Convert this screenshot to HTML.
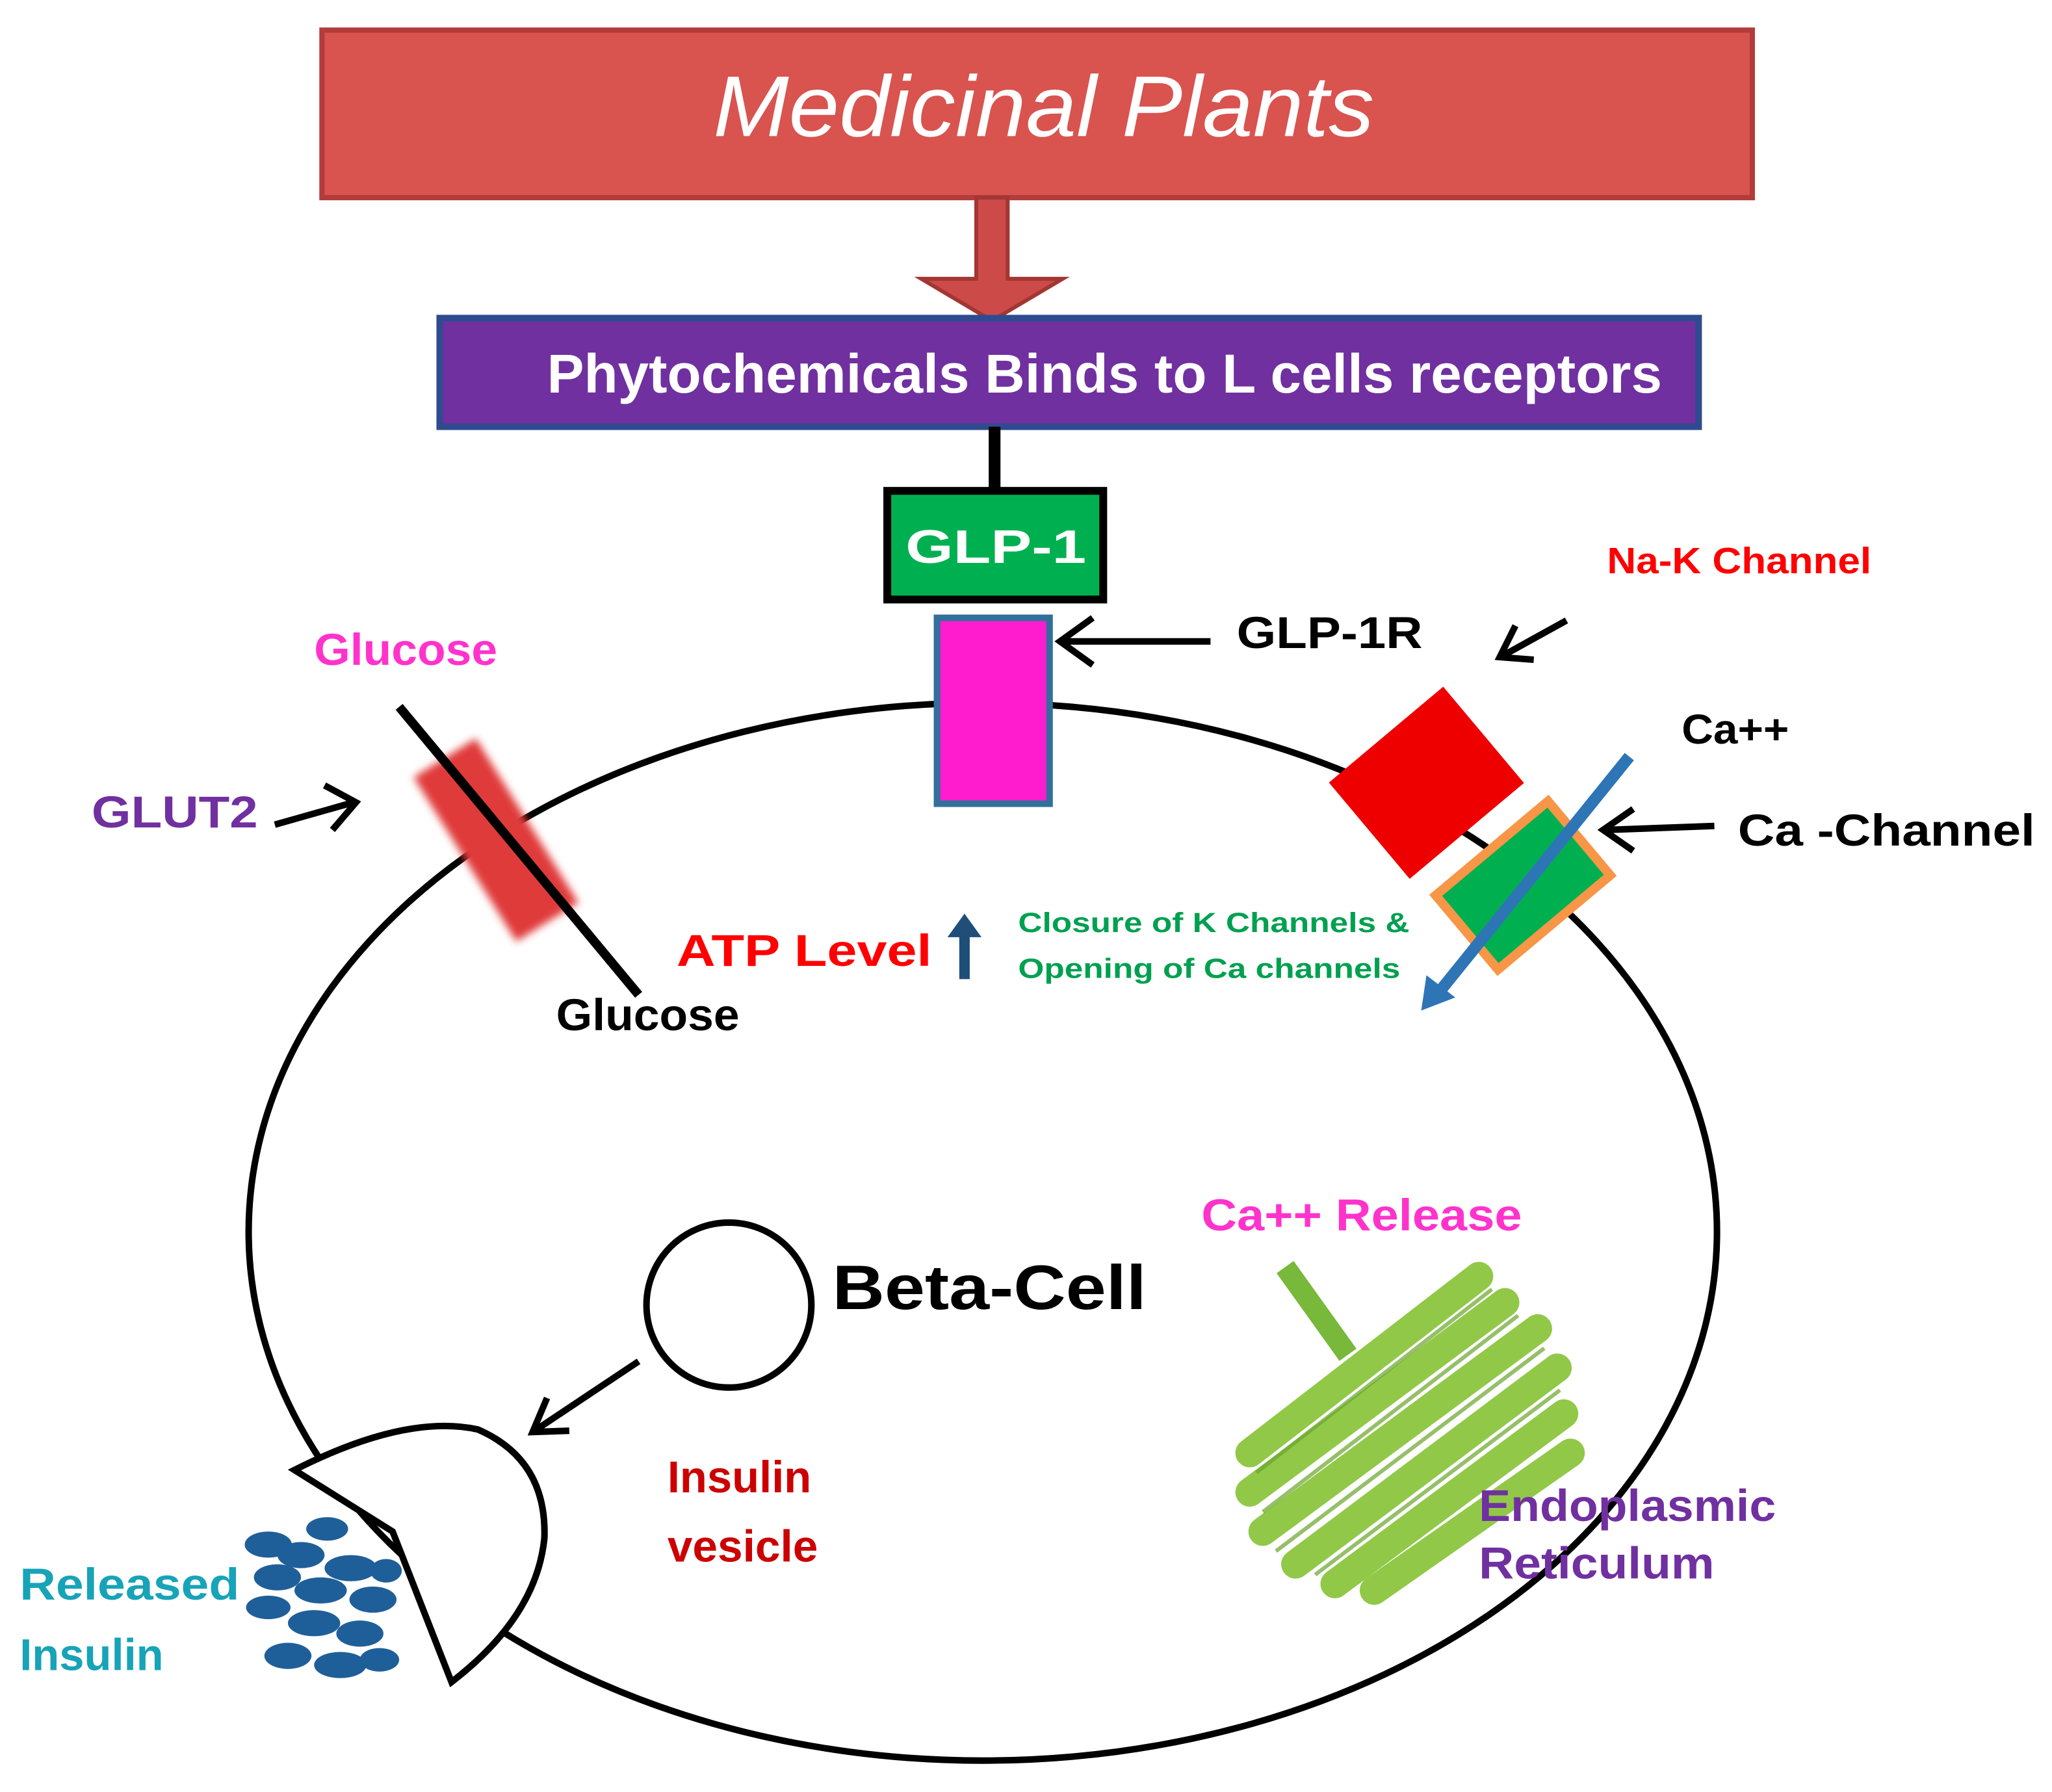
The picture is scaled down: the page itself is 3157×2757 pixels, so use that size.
<!DOCTYPE html>
<html><head><meta charset="utf-8"><style>
html,body{margin:0;padding:0;background:#fff;}
svg{display:block;}
text{font-family:"Liberation Sans",sans-serif;}
</style></head><body>
<svg width="3157" height="2757" viewBox="0 0 1568 1369" preserveAspectRatio="none" xmlns="http://www.w3.org/2000/svg">
<defs>
<filter id="blur" x="-20%" y="-20%" width="140%" height="140%"><feGaussianBlur stdDeviation="3"/></filter>
</defs>
<rect width="1568" height="1369" fill="#fff"/>
<rect x="246" y="23" width="1093" height="128" fill="#d9534f" stroke="#b23c3a" stroke-width="4"/>
<text x="545" y="104" font-size="66" font-style="italic" fill="#fff" textLength="505" lengthAdjust="spacingAndGlyphs">Medicinal Plants</text>
<path d="M746,151 L770,151 L770,213 L812,213 L758,245 L704,213 L746,213 Z" fill="#cc4b48" stroke="#a33633" stroke-width="3"/>
<rect x="336" y="243" width="962" height="83" fill="#7030a0" stroke="#2f4b8f" stroke-width="5"/>
<text x="418" y="300" font-size="42" font-weight="bold" fill="#fff" textLength="852" lengthAdjust="spacingAndGlyphs">Phytochemicals Binds to L cells receptors</text>
<line x1="760" y1="326" x2="760" y2="376" stroke="#000" stroke-width="9"/>
<rect x="678" y="375" width="165" height="83" fill="#00b050" stroke="#000" stroke-width="6"/>
<text x="692" y="430" font-size="36" font-weight="bold" fill="#fff" textLength="138" lengthAdjust="spacingAndGlyphs">GLP-1</text>
<ellipse cx="751" cy="941" rx="561" ry="404" fill="none" stroke="#000" stroke-width="5"/>
<rect x="716" y="472" width="86" height="142" fill="#ff1ccf" stroke="#31709a" stroke-width="5"/>
<line x1="925" y1="490" x2="812" y2="490" stroke="#000" stroke-width="5"/>
<path d="M835,472 L810,490 L835,508" fill="none" stroke="#000" stroke-width="5"/>
<text x="945" y="495" font-size="34" font-weight="bold" fill="#000" textLength="142" lengthAdjust="spacingAndGlyphs">GLP-1R</text>
<text x="240" y="508" font-size="34" font-weight="bold" fill="#ff33cc" textLength="140" lengthAdjust="spacingAndGlyphs">Glucose</text>
<text x="70" y="632" font-size="34" font-weight="bold" fill="#7030a0" textLength="127" lengthAdjust="spacingAndGlyphs">GLUT2</text>
<line x1="210" y1="630" x2="270" y2="613" stroke="#000" stroke-width="5"/>
<path d="M248,600 L272,613 L254,634" fill="none" stroke="#000" stroke-width="5"/>
<g transform="rotate(-32 378 640)" filter="url(#blur)"><rect x="350" y="568" width="56" height="148" fill="#e03a3a"/></g>
<line x1="305" y1="540" x2="488" y2="760" stroke="#000" stroke-width="7"/>
<text x="425" y="787" font-size="34" font-weight="bold" fill="#000" textLength="140" lengthAdjust="spacingAndGlyphs">Glucose</text>
<text x="517" y="738" font-size="34" font-weight="bold" fill="#ff0000" textLength="195" lengthAdjust="spacingAndGlyphs">ATP Level</text>
<path d="M733,748 L741,748 L741,716 L750,716 L737,698 L724,716 L733,716 Z" fill="#1f4e79"/>
<text x="778" y="712" font-size="21" font-weight="bold" fill="#00a050" textLength="299" lengthAdjust="spacingAndGlyphs">Closure of K Channels &amp;</text>
<text x="778" y="747" font-size="21" font-weight="bold" fill="#00a050" textLength="292" lengthAdjust="spacingAndGlyphs">Opening of Ca channels</text>
<text x="1228" y="438" font-size="28" font-weight="bold" fill="#ff0000" textLength="202" lengthAdjust="spacingAndGlyphs">Na-K Channel</text>
<line x1="1197" y1="474" x2="1150" y2="500" stroke="#000" stroke-width="5"/>
<path d="M1158,478 L1146,502 L1172,504" fill="none" stroke="#000" stroke-width="5"/>
<g transform="rotate(-40 1090 598)"><rect x="1033" y="550" width="114" height="96" fill="#ee0000"/></g>
<g transform="rotate(-40 1163 677)"><rect x="1108" y="640" width="112" height="74" fill="#00b050" stroke="#f79646" stroke-width="7"/></g>
<line x1="1245" y1="578" x2="1098" y2="760" stroke="#2e75b6" stroke-width="9"/>
<path d="M1086,772 L1090,745 L1112,762 Z" fill="#2e75b6"/>
<text x="1285" y="568" font-size="32" font-weight="bold" fill="#000" textLength="82" lengthAdjust="spacingAndGlyphs">Ca++</text>
<text x="1328" y="646" font-size="34" font-weight="bold" fill="#000" textLength="227" lengthAdjust="spacingAndGlyphs">Ca -Channel</text>
<line x1="1310" y1="631" x2="1228" y2="634" stroke="#000" stroke-width="5"/>
<path d="M1248,618 L1225,634 L1248,650" fill="none" stroke="#000" stroke-width="5"/>
<circle cx="557" cy="997" r="63" fill="#fff" stroke="#000" stroke-width="5"/>
<text x="636" y="1000" font-size="48" font-weight="bold" fill="#000" textLength="240" lengthAdjust="spacingAndGlyphs">Beta-Cell</text>
<line x1="488" y1="1040" x2="410" y2="1092" stroke="#000" stroke-width="5"/>
<path d="M418,1068 L407,1094 L435,1093" fill="none" stroke="#000" stroke-width="5"/>
<text x="510" y="1140" font-size="34" font-weight="bold" fill="#cc0000" textLength="110" lengthAdjust="spacingAndGlyphs">Insulin</text>
<text x="510" y="1193" font-size="34" font-weight="bold" fill="#cc0000" textLength="115" lengthAdjust="spacingAndGlyphs">vesicle</text>
<path d="M225,1123 Q310,1080 365,1092 Q418,1115 416,1175 Q410,1235 345,1285 L300,1170 Z" fill="#fff" stroke="#000" stroke-width="5"/>
<g fill="#1f5f99">
<ellipse cx="250" cy="1168" rx="16" ry="9"/><ellipse cx="205" cy="1180" rx="18" ry="10"/><ellipse cx="230" cy="1188" rx="18" ry="10"/>
<ellipse cx="268" cy="1198" rx="20" ry="10"/><ellipse cx="212" cy="1205" rx="18" ry="10"/><ellipse cx="245" cy="1215" rx="20" ry="10"/>
<ellipse cx="285" cy="1222" rx="18" ry="10"/><ellipse cx="205" cy="1228" rx="17" ry="9"/><ellipse cx="240" cy="1240" rx="20" ry="10"/>
<ellipse cx="275" cy="1248" rx="18" ry="10"/><ellipse cx="220" cy="1265" rx="18" ry="10"/><ellipse cx="260" cy="1272" rx="20" ry="10"/>
<ellipse cx="290" cy="1268" rx="15" ry="9"/><ellipse cx="295" cy="1200" rx="12" ry="9"/>
</g>
<text x="15" y="1222" font-size="34" font-weight="bold" fill="#17a3b8" textLength="168" lengthAdjust="spacingAndGlyphs">Released</text>
<text x="15" y="1276" font-size="34" font-weight="bold" fill="#17a3b8" textLength="110" lengthAdjust="spacingAndGlyphs">Insulin</text>
<text x="918" y="940" font-size="34" font-weight="bold" fill="#ff33cc" textLength="245" lengthAdjust="spacingAndGlyphs">Ca++ Release</text>
<line x1="982" y1="968" x2="1030" y2="1035" stroke="#78b83a" stroke-width="16"/>
<g stroke="#8cc63f" stroke-width="22" stroke-linecap="round" opacity="0.95">
<line x1="955" y1="1110" x2="1130" y2="975"/>
<line x1="955" y1="1140" x2="1150" y2="995"/>
<line x1="965" y1="1170" x2="1175" y2="1015"/>
<line x1="990" y1="1195" x2="1190" y2="1045"/>
<line x1="1020" y1="1210" x2="1195" y2="1080"/>
<line x1="1050" y1="1215" x2="1200" y2="1110"/>
</g>
<g stroke="#6aa52c" stroke-width="3" opacity="0.7">
<line x1="960" y1="1125" x2="1140" y2="985"/>
<line x1="965" y1="1155" x2="1160" y2="1005"/>
<line x1="975" y1="1185" x2="1180" y2="1030"/>
<line x1="1005" y1="1203" x2="1192" y2="1062"/>
</g>
<text x="1130" y="1162" font-size="34" font-weight="bold" fill="#7030a0" textLength="227" lengthAdjust="spacingAndGlyphs">Endoplasmic</text>
<text x="1130" y="1206" font-size="34" font-weight="bold" fill="#7030a0" textLength="180" lengthAdjust="spacingAndGlyphs">Reticulum</text>
</svg>
</body></html>
